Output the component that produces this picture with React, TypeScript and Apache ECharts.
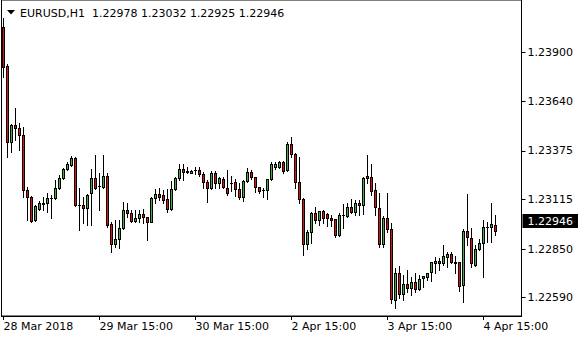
import React, { useEffect, useRef } from "react";
import * as echarts from "echarts";

const symbolName = "EURUSD,H1";

const opens = [
  1.24037, 1.23829, 1.23424, 1.23513, 1.23496, 1.2346, 1.23166, 1.23127, 1.23006, 1.23063,
  1.23091, 1.23095, 1.23122, 1.23122, 1.23175, 1.23228, 1.23277, 1.233, 1.23335, 1.23086,
  1.23086, 1.23068, 1.23148, 1.23228, 1.23185, 1.23184, 1.23241, 1.22984, 1.22876, 1.22902,
  1.22961, 1.23059, 1.23044, 1.22998, 1.23014, 1.23036, 1.23019, 1.22996, 1.23122, 1.23145,
  1.23139, 1.23116, 1.23063, 1.2317, 1.23228, 1.23277, 1.23264, 1.23258, 1.23273, 1.23273,
  1.23252, 1.23211, 1.23175, 1.23255, 1.23202, 1.23223, 1.23175, 1.23202, 1.2321, 1.2317,
  1.23127, 1.23216, 1.2326, 1.23234, 1.2318, 1.23166, 1.23166, 1.23223, 1.23287, 1.23287,
  1.23316, 1.23273, 1.23412, 1.23358, 1.2321, 1.23116, 1.22877, 1.22941, 1.23041, 1.23004,
  1.23054, 1.23038, 1.23018, 1.23009, 1.22925, 1.2303, 1.23027, 1.23073, 1.2305, 1.23098,
  1.23086, 1.23241, 1.23238, 1.23166, 1.23068, 1.22877, 1.23015, 1.22956, 1.22578, 1.22724,
  1.2261, 1.22662, 1.2264, 1.22672, 1.22635, 1.22695, 1.22699, 1.22726, 1.22777, 1.22786,
  1.22777, 1.22809, 1.22822, 1.22779, 1.22779, 1.22658, 1.22947, 1.22908, 1.22767, 1.22849,
  1.22881, 1.2297, 1.22969, 1.22978,
];

const closes = [
  1.23824, 1.23424, 1.23513, 1.23496, 1.2346, 1.23166, 1.23127, 1.23002, 1.2308, 1.23095,
  1.23096, 1.23122, 1.23125, 1.23175, 1.23228, 1.23277, 1.23303, 1.23335, 1.23086, 1.23085,
  1.23068, 1.23139, 1.23228, 1.23175, 1.23187, 1.23241, 1.22979, 1.22876, 1.22902, 1.22961,
  1.23059, 1.23044, 1.23002, 1.23015, 1.23036, 1.23019, 1.22996, 1.23122, 1.23145, 1.2313,
  1.23112, 1.23063, 1.2317, 1.23228, 1.23277, 1.23264, 1.23265, 1.2327, 1.23272, 1.2325,
  1.2321, 1.23175, 1.23255, 1.23202, 1.23228, 1.2318, 1.23148, 1.23201, 1.2317, 1.23127,
  1.23216, 1.2326, 1.23234, 1.2318, 1.23162, 1.23165, 1.23223, 1.23305, 1.23305, 1.23316,
  1.23269, 1.23412, 1.23358, 1.2321, 1.23116, 1.22877, 1.22941, 1.23044, 1.23006, 1.23054,
  1.23015, 1.23015, 1.23008, 1.22925, 1.23032, 1.23032, 1.23073, 1.2305, 1.23098, 1.23086,
  1.23228, 1.23228, 1.23162, 1.23073, 1.22877, 1.23015, 1.22956, 1.22581, 1.22724, 1.2261,
  1.22662, 1.2264, 1.22676, 1.22635, 1.22688, 1.22706, 1.2272, 1.22779, 1.22786, 1.22774,
  1.22813, 1.22822, 1.22779, 1.22778, 1.22654, 1.22948, 1.22916, 1.22774, 1.22849, 1.22881,
  1.22966, 1.22969, 1.22982, 1.22946,
];

const lows = [
  1.2377, 1.23344, 1.23371, 1.23433, 1.2338, 1.2313, 1.23006, 1.22996, 1.23, 1.23059,
  1.23059, 1.2305, 1.23015, 1.23118, 1.23171, 1.23224, 1.23273, 1.23293, 1.2308, 1.22952,
  1.22988, 1.22979, 1.22979, 1.23171, 1.23059, 1.23177, 1.22966, 1.22836, 1.2286, 1.22854,
  1.22957, 1.23022, 1.22995, 1.22995, 1.22996, 1.22988, 1.22896, 1.22995, 1.23095, 1.23112,
  1.23095, 1.2305, 1.23059, 1.23166, 1.23219, 1.23219, 1.23258, 1.23255, 1.23252, 1.23241,
  1.23175, 1.23103, 1.23171, 1.23175, 1.23175, 1.23175, 1.23139, 1.23162, 1.23134, 1.23116,
  1.23107, 1.2321, 1.23223, 1.23157, 1.23148, 1.2313, 1.23116, 1.23219, 1.23277, 1.23282,
  1.23258, 1.2327, 1.23344, 1.23175, 1.23098, 1.22816, 1.22849, 1.22881, 1.22988, 1.22979,
  1.22991, 1.22974, 1.22974, 1.22917, 1.2292, 1.22961, 1.2302, 1.23041, 1.23032, 1.23032,
  1.23038, 1.23202, 1.23139, 1.23032, 1.2286, 1.2286, 1.22943, 1.2256, 1.22533, 1.22587,
  1.22578, 1.22622, 1.22604, 1.22622, 1.22631, 1.22649, 1.22685, 1.22681, 1.22724, 1.22738,
  1.22765, 1.22754, 1.22776, 1.2272, 1.22627, 1.22569, 1.22872, 1.22756, 1.2276, 1.22845,
  1.22702, 1.22889, 1.22889, 1.22925,
];

const highs = [
  1.24086, 1.2384, 1.23519, 1.23603, 1.23526, 1.23504, 1.23184, 1.23134, 1.23086, 1.23109,
  1.2313, 1.23151, 1.23139, 1.23219, 1.23246, 1.23283, 1.23316, 1.23349, 1.23342, 1.23177,
  1.2313, 1.23145, 1.23277, 1.23353, 1.23255, 1.23353, 1.23255, 1.22995, 1.23006, 1.23006,
  1.23103, 1.23098, 1.23059, 1.23059, 1.23059, 1.23063, 1.23024, 1.2313, 1.2317, 1.23175,
  1.23166, 1.2317, 1.23216, 1.23235, 1.23305, 1.23305, 1.23287, 1.23273, 1.2329, 1.23287,
  1.23264, 1.23219, 1.23269, 1.23267, 1.23237, 1.23234, 1.23273, 1.23241, 1.23223, 1.23205,
  1.23219, 1.23282, 1.23273, 1.23235, 1.23182, 1.23175, 1.23224, 1.23317, 1.23317, 1.23322,
  1.23321, 1.23424, 1.23451, 1.23364, 1.23344, 1.23123, 1.22952, 1.2305, 1.23077, 1.23056,
  1.23059, 1.23044, 1.23032, 1.23011, 1.23041, 1.23091, 1.23098, 1.23116, 1.23112, 1.23112,
  1.23237, 1.23353, 1.23305, 1.23205, 1.23151, 1.23027, 1.23148, 1.22988, 1.22747, 1.2276,
  1.22711, 1.22738, 1.22702, 1.2272, 1.22711, 1.22708, 1.22722, 1.22781, 1.22809, 1.22801,
  1.22872, 1.22836, 1.22836, 1.22813, 1.22781, 1.22956, 1.23145, 1.22961, 1.22872, 1.22902,
  1.23006, 1.22996, 1.23098, 1.23032,
];

const yTicks = [1.2259, 1.2285, 1.23115, 1.23375, 1.2364, 1.239];
const xTickIndex = [0, 24, 48, 72, 96, 120];
const xTickLabels = ["28 Mar 2018", "29 Mar 15:00", "30 Mar 15:00", "2 Apr 15:00", "3 Apr 15:00", "4 Apr 15:00"];
const slotCount = 130;
const yMin = 1.22492;
const yMax = 1.24182;

const FONT = "DejaVu Sans";
const BULL = "#3cb043";
const BEAR = "#e01010";

export default function App() {
  const ref = useRef<HTMLDivElement>(null);
  useEffect(() => {
    if (!ref.current) return;
    const chart = echarts.init(ref.current, undefined, { renderer: "svg" });
    const categories = Array.from({ length: slotCount }, (_, i) => String(i));
    const data = opens.map((o, i) => [i, o, closes[i], lows[i], highs[i]]);
    const last = opens.length - 1;
    const title = `${symbolName}  ${opens[last].toFixed(5)} ${highs[last].toFixed(5)} ${lows[last].toFixed(5)} ${closes[last].toFixed(5)}`;
    const showIdx = (i: number) => xTickIndex.indexOf(i) >= 0;

    const renderItem = (_params: any, api: any) => {
      const idx = api.value(0);
      const o = api.value(1);
      const c = api.value(2);
      const l = api.value(3);
      const h = api.value(4);
      const pO = api.coord([idx, o]);
      const pC = api.coord([idx, c]);
      const pL = api.coord([idx, l]);
      const pH = api.coord([idx, h]);
      const px = Math.floor(pO[0]);
      const top = Math.round(Math.min(pO[1], pC[1]));
      const bot = Math.round(Math.max(pO[1], pC[1]));
      const hy = Math.round(pH[1]);
      const ly = Math.round(pL[1]);
      const children: any[] = [
        { type: "rect", shape: { x: px, y: hy, width: 1, height: Math.max(ly - hy + 1, 1) }, style: { fill: "#000" } },
        { type: "rect", shape: { x: px - 1, y: top, width: 3, height: Math.max(bot - top + 1, 1) }, style: { fill: "#000" } },
      ];
      if (bot - top >= 2) {
        children.push({
          type: "rect",
          shape: { x: px, y: top + 1, width: 1, height: bot - top - 1 },
          style: { fill: c >= o ? BULL : BEAR },
        });
      }
      return { type: "group", children };
    };

    chart.setOption({
      animation: false,
      backgroundColor: "#ffffff",
      grid: {
        left: 1.5,
        right: 58.5,
        top: 0,
        bottom: 24,
        containLabel: false,
        outerBoundsMode: "none",
        show: true,
        borderColor: "#000",
        borderWidth: 1,
      },
      xAxis: {
        type: "category",
        data: categories,
        boundaryGap: true,
        axisLine: { show: true, lineStyle: { color: "#000", width: 1 } },
        axisTick: { show: true, alignWithLabel: true, interval: (i: number) => showIdx(i), length: 4, lineStyle: { color: "#000" } },
        axisLabel: {
          interval: (i: number) => showIdx(i),
          formatter: (_v: string, i: number) => {
            const k = xTickIndex.indexOf(i);
            return k >= 0 ? xTickLabels[k] : "";
          },
          align: "left",
          margin: 5,
          color: "#000",
          fontFamily: FONT,
          fontSize: 11,
        },
        splitLine: { show: false },
      },
      yAxis: {
        type: "value",
        position: "right",
        min: yMin,
        max: yMax,
        axisLine: { show: true, lineStyle: { color: "#000", width: 1 } },
        axisTick: { show: true, length: 4, customValues: yTicks, lineStyle: { color: "#000" } },
        axisLabel: {
          customValues: yTicks,
          formatter: (v: number) => v.toFixed(5),
          margin: 6,
          color: "#000",
          fontFamily: FONT,
          fontSize: 11,
        },
        splitLine: { show: false },
      },
      series: [
        {
          type: "custom",
          data,
          encode: { x: 0, y: [1, 2, 3, 4] },
          renderItem,
          clip: true,
          markLine: {
            silent: true,
            symbol: "none",
            animation: false,
            lineStyle: { color: "rgba(0,0,0,0)", width: 0 },
            label: {
              show: true,
              position: "end",
              distance: 1,
              formatter: () => closes[last].toFixed(5),
              backgroundColor: "#000",
              color: "#fff",
              padding: [2, 5, 1, 5],
              fontFamily: FONT,
              fontSize: 11,
            },
            data: [{ yAxis: closes[last] }],
          },
        },
      ],
      graphic: [
        {
          type: "polygon",
          shape: { points: [[7, 10], [15, 10], [11, 14.5]] },
          style: { fill: "#000" },
        },
        {
          type: "text",
          x: 20,
          y: 13,
          style: { text: title, fill: "#000", font: `11px "${FONT}"`, textVerticalAlign: "middle" },
        },
      ],
    });
    return () => chart.dispose();
  }, []);
  return <div ref={ref} style={{ width: 580, height: 340, position: "absolute", left: 0, top: 0 }} />;
}
